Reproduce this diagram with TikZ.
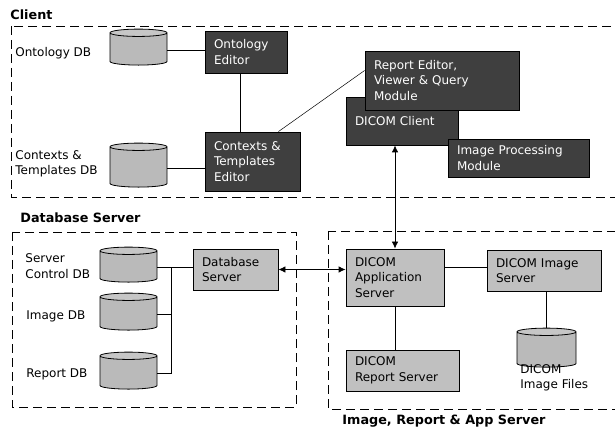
\documentclass[tikz,border=0pt]{standalone}
\usepackage{fontspec}
\setmainfont{DejaVu Sans}
\usetikzlibrary{%
    arrows.meta,
    positioning,
    shapes.geometric
}
\definecolor{clientgray}{HTML}{3F3F3F}
\definecolor{servergray}{HTML}{C0C0C0}
\definecolor{dbgray}{HTML}{BABABA}
\definecolor{dbtop}{HTML}{C6C6C6}
\tikzset{dblarrow/.style = {{Latex[length=7pt,width=6.5pt]}-{Latex[length=7pt,width=6.5pt]}}}

\begin{document}
\begin{tikzpicture}[x=1pt, y=-1pt, line width=.8pt,
    every node/.style = {font=\fontsize{12}{15.5}\selectfont},
    client/.style = {draw, fill=clientgray, text=white, align=left, inner xsep=9pt, inner ysep=0pt},
    server/.style = {draw, fill=servergray, align=left, inner xsep=9pt, inner ysep=0pt},
    db/.style = {cylinder, shape border rotate=90, aspect=1.1, draw,
                 cylinder uses custom fill, cylinder body fill=dbgray, cylinder end fill=dbtop,
                 minimum width=57pt},
    dbname/.style = {anchor=west, align=left, inner sep=0pt},
    zone/.style = {draw, dash pattern=on 9pt off 5pt},
    title/.style = {font=\fontsize{12.8}{15}\selectfont\bfseries, anchor=west, inner sep=0pt}]
    \useasboundingbox (0,0) rectangle (615,435);

    \draw[zone] (11,26) rectangle (630,197);
    \draw[zone] (12,232) rectangle (296,407);
    \draw[zone] (328,231) rectangle (630,409);
    \node[title] (clientT) at (10,15) {Client};
    \node[title] (dbT) at (20,218) {Database Server};
    \node[title] (appT) at (342,421) {Image, Report \& App Server};

    \node[db, minimum height=36pt] (ontDB) at (138.5,50) {};
    \node[db, minimum height=44pt] (ctxDB) at (138.5,168) {};
    \node[dbname] (ontL) at (15,53) {Ontology DB};
    \node[dbname] (ctxL) at (15,164) {Contexts \&\\Templates DB};
    \node[client, text width=64pt, minimum height=42pt] (ontEd) at (246,52) {Ontology\\Editor};
    \node[client, text width=77pt, minimum height=59pt] (ctxEd) at (252.5,161.5) {Contexts \&\\Templates\\Editor};
    \node[client, text width=94pt, minimum height=48pt] (dcmCl) at (402,121) {DICOM Client};
    \node[client, text width=136pt, minimum height=59pt] (repEd) at (442,80.5) {Report Editor,\\Viewer \& Query\\Module};
    \node[client, text width=123pt, minimum height=38pt] (imgProc) at (518.5,158) {Image Processing\\Module};

    \node[db, minimum height=35pt] (srvDB) at (128.5,267.5) {};
    \node[db, minimum height=37pt] (imDB) at (128.5,314.5) {};
    \node[db, minimum height=37pt] (rpDB) at (128.5,373.5) {};
    \node[dbname] (srvL) at (25,266) {Server\\Control DB};
    \node[dbname] (imL) at (26,316) {Image DB};
    \node[dbname] (rpL) at (26,374) {Report DB};
    \node[server, text width=67pt, minimum height=41pt] (dbSrv) at (235.5,269.5) {Database\\Server};
    \coordinate (bus) at (171,267);

    \node[server, text width=80pt, minimum height=57pt] (appSrv) at (395,277.5) {DICOM\\Application\\Server};
    \node[server, text width=96pt, minimum height=41pt] (imgSrv) at (544,270.5) {DICOM Image\\Server};
    \node[server, text width=95pt, minimum height=41pt] (repSrv) at (402.5,370.5) {DICOM\\Report Server};
    \node[db, minimum width=59pt, minimum height=39pt] (filesDB) at (546.5,350.5) {};
    \node[dbname, anchor=north west] (filesL) at (520,364) {DICOM\\Image Files};

    \draw (ontDB.east) -- (ontDB.east -| ontEd.west);
    \draw (ctxDB.east) -- (ctxDB.east -| ctxEd.west);
    \draw ([xshift=-6pt]ontEd.south) -- ([xshift=-6pt]ontEd.south |- ctxEd.north);
    \draw[line width=.5pt] ([xshift=-22pt]ctxEd.north east) -- ([yshift=10pt]repEd.west);
    \draw[dblarrow] (dcmCl.south -| appSrv.north) -- (appSrv.north);

    \draw (srvDB.east) -- (srvDB.east -| dbSrv.west);
    \draw (imDB.east) -- (imDB.east -| bus);
    \draw (rpDB.east) -| (bus);
    \draw[dblarrow] (dbSrv.east) -- (dbSrv.east -| appSrv.west);

    \draw ([yshift=3pt]imgSrv.west) -- ([yshift=3pt]imgSrv.west -| appSrv.east);
    \draw (appSrv.south) -- (appSrv.south |- repSrv.north);
    \draw (filesDB.north) -- (filesDB.north |- imgSrv.south);
\end{tikzpicture}
\end{document}
